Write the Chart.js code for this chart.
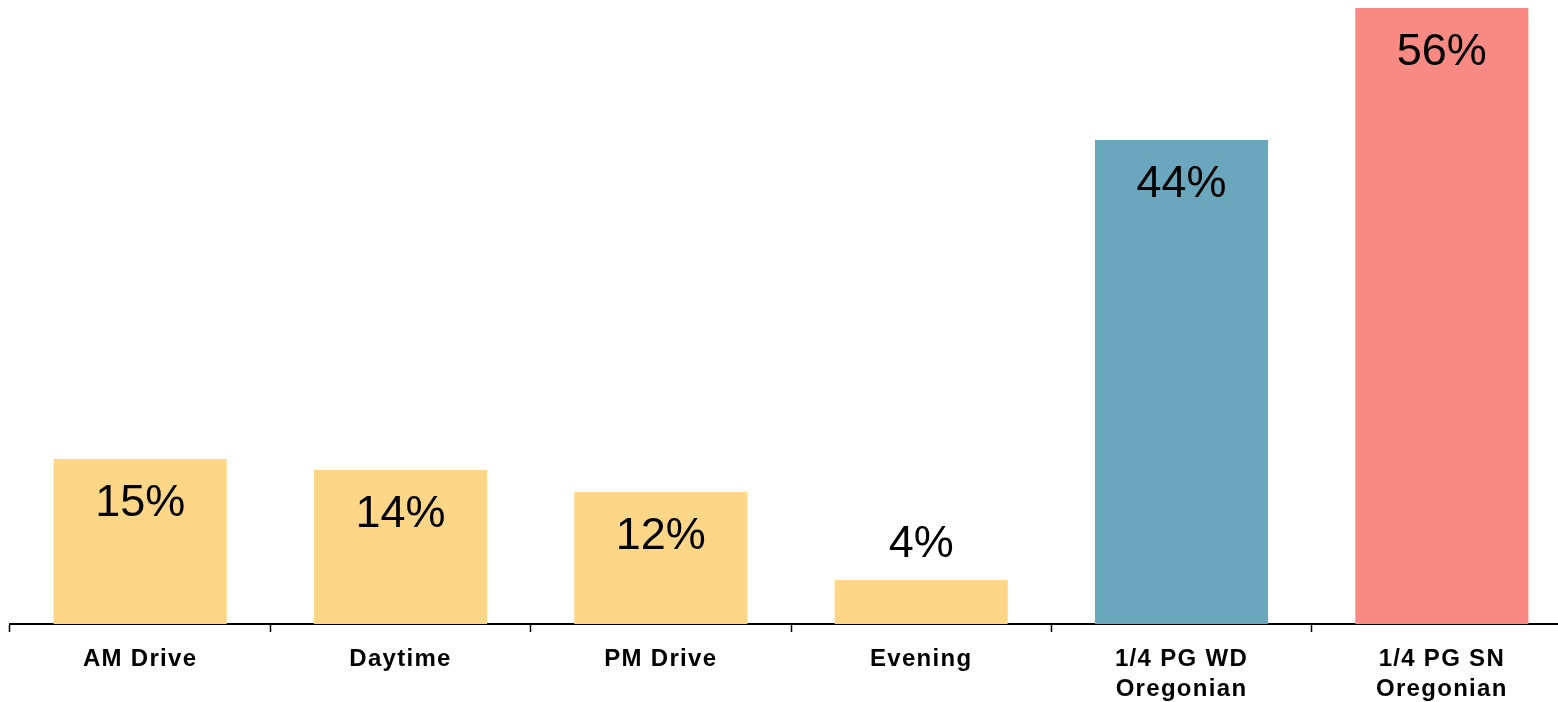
<!DOCTYPE html>
<html>
<head>
<meta charset="utf-8">
<script src="https://cdn.jsdelivr.net/npm/chart.js@4"></script>
<style>
  html, body { margin: 0; padding: 0; background: #fff; overflow: hidden; }
  #wrap { width: 1572px; height: 716px; }
</style>
</head>
<body>
<div id="wrap"><canvas id="canvas" width="1572" height="716"></canvas></div>
<script>
// données ------------------------------------------------------
var categories = ['AM Drive', 'Daytime', 'PM Drive', 'Evening', ['1/4 PG WD', 'Oregonian'], ['1/4 PG SN', 'Oregonian']];
var values = [15, 14, 12, 4, 44, 56];
var barColors = ['#FED687', '#FED687', '#FED687', '#FED687', '#6BA7BC', '#F88A83'];

// espacement des lettres pour les libellés de l'axe
var spacing = {
  id: 'spacing',
  beforeDraw: function (chart) {
    chart.ctx.letterSpacing = '1.3px';
  }
};

// étiquettes de valeur (dans la barre, ou au-dessus si trop petite)
var valueLabels = {
  id: 'valueLabels',
  afterDatasetsDraw: function (chart) {
    var ctx = chart.ctx;
    var meta = chart.getDatasetMeta(0);
    ctx.save();
    ctx.letterSpacing = '0px';
    ctx.font = '45px "Liberation Sans", Arial, sans-serif';
    ctx.fillStyle = '#000';
    ctx.textAlign = 'center';
    ctx.textBaseline = 'middle';
    meta.data.forEach(function (bar, i) {
      var h = bar.base - bar.y;
      var y = h > 80 ? bar.y + 45 : bar.y - 35;
      ctx.fillText(values[i] + '%', bar.x, y);
    });
    ctx.restore();
  }
};

var ctx = document.getElementById('canvas').getContext('2d');

var myChart = new Chart(ctx, {
  type: 'bar',
  data: {
    labels: categories,
    datasets: [{
      data: values,
      backgroundColor: barColors,
      borderWidth: 0,
      barPercentage: 0.665,
      categoryPercentage: 1
    }]
  },
  options: {
    responsive: false,
    animation: false,
    layout: { padding: { left: 10, top: 8, right: 0, bottom: 0 } },
    plugins: {
      legend: { display: false },
      tooltip: { enabled: false }
    },
    scales: {
      y: {
        display: false,
        min: 0,
        max: 56
      },
      x: {
        border: { display: true, color: '#000', width: 2 },
        grid: {
          display: true,
          drawOnChartArea: false,
          drawTicks: true,
          tickLength: 8,
          tickWidth: 1.5,
          tickColor: '#000',
          offset: true
        },
        ticks: {
          color: '#000',
          padding: 12,
          maxRotation: 0,
          autoSkip: false,
          font: { family: '"Liberation Sans", Arial, sans-serif', weight: 'bold', size: 24, lineHeight: 1.25 }
        }
      }
    }
  },
  plugins: [spacing, valueLabels]
});
</script>
</body>
</html>
